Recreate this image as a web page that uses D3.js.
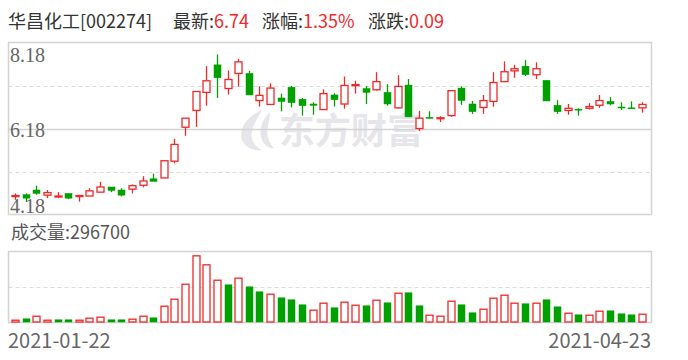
<!doctype html>
<html lang="zh">
<head>
    <meta charset="UTF-8">
    <title>华昌化工 K线</title>
    <script src="https://cdnjs.cloudflare.com/ajax/libs/d3/7.8.5/d3.min.js"></script>
    <style>
        html, body {
            margin: 0;
            padding: 0;
            background: #fff;
            overflow: hidden;
        }
        .cjk { font-family: "Noto Sans CJK SC", "Noto Sans", sans-serif; }
    </style>
</head>
<body>
<svg id="kline" width="688" height="360"></svg>
<script>
    // trading days 2021-01-22 .. 2021-04-23
    const dates = [
        "2021-01-22", "2021-01-25", "2021-01-26", "2021-01-27", "2021-01-28", "2021-01-29",
        "2021-02-01", "2021-02-02", "2021-02-03", "2021-02-04", "2021-02-05", "2021-02-08",
        "2021-02-09", "2021-02-10", "2021-02-18", "2021-02-19", "2021-02-22", "2021-02-23",
        "2021-02-24", "2021-02-25", "2021-02-26", "2021-03-01", "2021-03-02", "2021-03-03",
        "2021-03-04", "2021-03-05", "2021-03-08", "2021-03-09", "2021-03-10", "2021-03-11",
        "2021-03-12", "2021-03-15", "2021-03-16", "2021-03-17", "2021-03-18", "2021-03-19",
        "2021-03-22", "2021-03-23", "2021-03-24", "2021-03-25", "2021-03-26", "2021-03-29",
        "2021-03-30", "2021-03-31", "2021-04-01", "2021-04-02", "2021-04-06", "2021-04-07",
        "2021-04-08", "2021-04-09", "2021-04-12", "2021-04-13", "2021-04-14", "2021-04-15",
        "2021-04-16", "2021-04-19", "2021-04-20", "2021-04-21", "2021-04-22", "2021-04-23"
    ];
    const open = [
        4.62, 4.64, 4.75, 4.63, 4.61, 4.67, 4.60, 4.61, 4.70, 4.82, 4.75, 4.77,
        4.86, 5.01, 5.03, 5.42, 6.21, 6.60, 7.02, 7.66, 7.11, 7.46, 7.46, 6.83,
        6.74, 6.89, 7.14, 6.86, 6.75, 6.62, 6.96, 6.75, 7.20, 7.11, 7.08, 7.02,
        6.66, 7.19, 6.18, 6.44, 6.43, 6.48, 7.12, 6.75, 6.67, 6.81, 7.27, 7.52,
        7.63, 7.43, 7.30, 6.72, 6.60, 6.63, 6.65, 6.72, 6.81, 6.68, 6.66, 6.66
    ];
    const close = [
        4.62, 4.56, 4.67, 4.69, 4.61, 4.56, 4.62, 4.73, 4.82, 4.74, 4.63, 4.85,
        4.96, 4.95, 5.43, 5.81, 6.42, 7.04, 7.29, 7.36, 7.32, 7.73, 6.96, 6.95,
        7.12, 6.81, 6.78, 6.71, 6.72, 6.99, 6.85, 7.18, 7.20, 7.02, 7.27, 6.75,
        7.16, 6.45, 6.42, 6.43, 6.43, 7.06, 6.83, 6.57, 6.83, 7.25, 7.50, 7.57,
        7.43, 7.57, 6.82, 6.57, 6.65, 6.62, 6.69, 6.83, 6.75, 6.67, 6.65, 6.74
    ];
    const high = [
        4.67, 4.67, 4.85, 4.75, 4.70, 4.67, 4.64, 4.79, 4.94, 4.82, 4.79, 4.88,
        5.07, 5.13, 5.43, 5.94, 6.42, 7.04, 7.63, 7.90, 7.53, 7.80, 7.52, 7.16,
        7.23, 6.99, 7.17, 6.89, 6.79, 7.09, 7.00, 7.39, 7.29, 7.17, 7.49, 7.21,
        7.42, 7.33, 6.59, 6.58, 6.47, 7.06, 7.16, 6.82, 6.96, 7.49, 7.74, 7.66,
        7.77, 7.72, 7.30, 6.84, 6.75, 6.65, 6.77, 6.96, 6.91, 6.79, 6.81, 6.79
    ];
    const low = [
        4.52, 4.47, 4.64, 4.56, 4.56, 4.54, 4.48, 4.61, 4.70, 4.70, 4.60, 4.67,
        4.81, 4.95, 5.03, 5.37, 6.01, 6.22, 6.71, 6.89, 6.97, 7.15, 6.96, 6.69,
        6.74, 6.58, 6.67, 6.48, 6.50, 6.62, 6.69, 6.64, 6.99, 6.75, 7.06, 6.71,
        6.64, 6.45, 6.12, 6.41, 6.33, 6.45, 6.73, 6.52, 6.52, 6.69, 7.27, 7.36,
        7.40, 7.33, 6.82, 6.52, 6.50, 6.48, 6.62, 6.66, 6.72, 6.61, 6.64, 6.55
    ];
    // 成交量 (手)
    const volume = [
        82000, 132000, 225000, 82000, 96500, 96500, 82000, 154000, 190000, 96500, 96500, 118000,
        225000, 168000, 583000, 833000, 1369000, 2384000, 2063000, 1512000, 1348000, 1584000, 1276000, 1098000,
        1012000, 883000, 812000, 633000, 440000, 690000, 526000, 726000, 618000, 597000, 797000, 704000,
        1047000, 1062000, 597000, 261000, 225000, 761000, 633000, 347000, 475000, 869000, 976000, 690000,
        669000, 690000, 812000, 561000, 332000, 275000, 261000, 404000, 418000, 311000, 275000, 296700
    ];
    const priceTicks = [4.18, 5.18, 6.18, 7.18, 8.18];
    const priceLabels = [4.18, 6.18, 8.18];

    const RED = "#f02828";
    const GREEN = "#00a000";
    const LINE = "#d3d3d3";
    const DASH = "#dcdcdc";

    const svg = d3.select("#kline");

    const data = dates.map((d, i) => ({
        date: d, o: open[i], c: close[i], h: high[i], l: low[i], v: volume[i],
        prev: i > 0 ? close[i - 1] : open[i]
    }));

    const box = {left: 8.5, right: 651.5, top: 42.5, bottom: 214.5};
    const vbox = {top: 251.5, bottom: 322.5};

    const x = d3.scalePoint().domain(dates).range([15, 642]);
    const y = d3.scaleLinear().domain([4.18, 8.18]).range([box.bottom, box.top]);
    const volMax = d3.max(volume) * 1.065;
    const yv = d3.scaleLinear().domain([0, volMax]).range([vbox.bottom, vbox.top]);
    const bw = 7;

    // header
    const head = svg.append("text").attr("class", "cjk")
        .attr("y", 28).attr("font-size", 18).attr("fill", "#333");
    head.append("tspan").attr("x", 8).text("华昌化工[002274]");
    const latest = close[close.length - 1];
    const chg = latest - close[close.length - 2];
    const parts = [
        {x: 173, label: "最新:", value: latest.toFixed(2)},
        {x: 262, label: "涨幅:", value: (chg / close[close.length - 2] * 100).toFixed(2) + "%"},
        {x: 368, label: "涨跌:", value: chg.toFixed(2)}
    ];
    parts.forEach(p => {
        head.append("tspan").attr("x", p.x).text(p.label);
        head.append("tspan").attr("fill", RED).text(p.value);
    });

    // watermark
    const wm = svg.append("g").attr("fill", "#e6e6ea");
    wm.append("path").attr("d",
        "M262,110 C248,116 238,128 242,140 C245,148 254,151 262,150 C254,146 250,139 252,131 C254,122 259,116 262,110 Z" +
        " M270,112 C262,120 258,130 262,140 C265,147 271,149 274,148 C268,142 266,134 268,126 C269,120 270,116 270,112 Z");
    wm.append("text").attr("class", "cjk")
        .attr("x", 279).attr("y", 144)
        .attr("font-size", 36).attr("font-weight", 700)
        .text("东方财富");

    // price grid
    const grid = svg.append("g");
    grid.selectAll("line.p").data(priceTicks.filter(t => t !== 4.18 && t !== 8.18))
        .enter().append("line")
        .attr("x1", box.left).attr("x2", box.right)
        .attr("y1", d => Math.round(y(d)) + 0.5).attr("y2", d => Math.round(y(d)) + 0.5)
        .attr("stroke", d => d === 6.18 ? LINE : DASH)
        .attr("stroke-width", d => d === 6.18 ? 1.5 : 1.2)
        .attr("stroke-dasharray", d => d === 6.18 ? null : "4,3");
    grid.append("rect")
        .attr("x", box.left).attr("y", box.top)
        .attr("width", box.right - box.left).attr("height", box.bottom - box.top)
        .attr("fill", "none").attr("stroke", LINE).attr("stroke-width", 1.5);

    // candles
    const candles = svg.append("g").selectAll("g").data(data).enter().append("g")
        .attr("transform", d => `translate(${Math.round(x(d.date)) + 0.5},0)`);
    candles.append("line")
        .attr("y1", d => y(d.h)).attr("y2", d => y(d.l))
        .attr("stroke", d => d.c >= d.o ? RED : GREEN).attr("stroke-width", 1.3);
    candles.append("rect")
        .attr("x", -bw / 2)
        .attr("y", d => y(Math.max(d.o, d.c)))
        .attr("width", bw)
        .attr("height", d => Math.max(1, Math.abs(y(d.o) - y(d.c))))
        .attr("fill", d => d.c >= d.o ? "#fff" : GREEN)
        .attr("stroke", d => d.c >= d.o ? RED : GREEN)
        .attr("stroke-width", d => d.c >= d.o ? 1.3 : 0.5);

    // price labels
    const labelDy = {8.18: 19, 6.18: 8.5, 4.18: -1.5};
    svg.append("g").selectAll("text").data(priceLabels).enter().append("text")
        .attr("x", 10).attr("y", d => y(d) + labelDy[d])
        .attr("font-family", "'Liberation Serif', 'DejaVu Serif', serif")
        .attr("font-size", 20).attr("fill", "#666")
        .text(d => d.toFixed(2));

    // volume panel
    svg.append("text").attr("class", "cjk")
        .attr("x", 11).attr("y", 239).attr("font-size", 18).attr("fill", "#555")
        .text("成交量:" + volume[volume.length - 1]);
    svg.append("line")
        .attr("x1", box.left).attr("x2", box.right)
        .attr("y1", Math.round(yv(volMax / 2)) + 0.5).attr("y2", Math.round(yv(volMax / 2)) + 0.5)
        .attr("stroke", DASH).attr("stroke-width", 1.2).attr("stroke-dasharray", "4,3");
    svg.append("rect")
        .attr("x", box.left).attr("y", vbox.top)
        .attr("width", box.right - box.left).attr("height", vbox.bottom - vbox.top)
        .attr("fill", "none").attr("stroke", LINE).attr("stroke-width", 1.5);

    svg.append("g").selectAll("rect").data(data).enter().append("rect")
        .attr("x", d => Math.round(x(d.date)) + 0.5 - bw / 2)
        .attr("y", d => yv(d.v))
        .attr("width", bw)
        .attr("height", d => yv(0) - yv(d.v) - 0.5)
        .attr("fill", d => d.c >= d.prev ? "#fff" : GREEN)
        .attr("stroke", d => d.c >= d.prev ? RED : GREEN)
        .attr("stroke-width", d => d.c >= d.prev ? 1.3 : 0.5);

    // date labels
    const dl = svg.append("g").attr("class", "cjk").attr("font-size", 20).attr("fill", "#666");
    dl.append("text").attr("x", 8).attr("y", 348).text(dates[0]);
    dl.append("text").attr("x", 651).attr("y", 348).attr("text-anchor", "end").text(dates[dates.length - 1]);
</script>
</body>
</html>
